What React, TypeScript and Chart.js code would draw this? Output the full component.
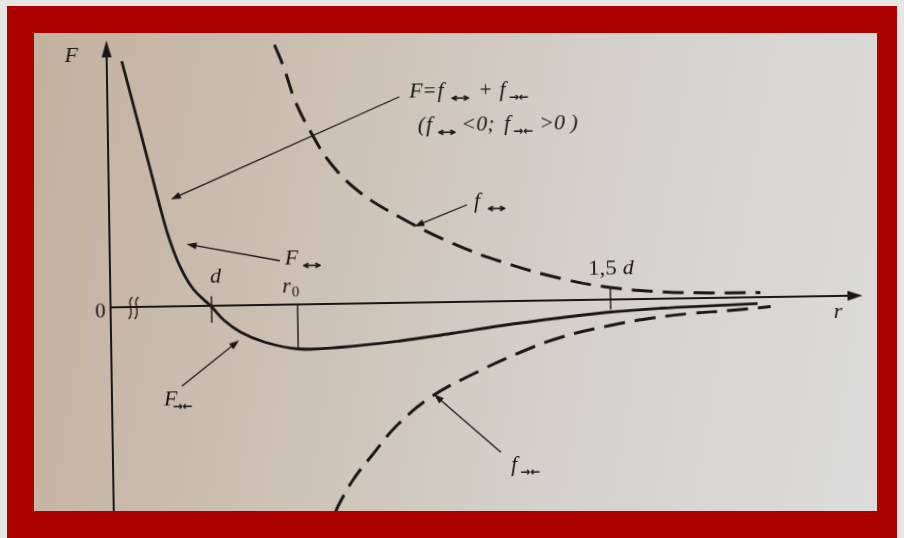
import React, { useEffect, useRef } from "react";
import { Chart, registerables } from "chart.js";
Chart.register(...registerables);

// ---- data (r in arbitrary units, F in arbitrary units) ----
const rF = [1.5, 2.2, 4.0, 5.3, 6.0, 7.0, 8.3, 10.1, 11.3, 13.0, 15.3, 18.7, 23.0, 29.0, 34.0, 39.0, 45.0, 50.0, 55.0, 60.0, 64.7];
const F = [24.6, 21.8, 14.5, 9.2, 6.7, 4.0, 1.7, -0.1, -1.45, -2.7, -3.7, -4.45, -4.35, -3.8, -3.15, -2.45, -1.75, -1.25, -0.95, -0.78, -0.64];
const rRep = [16.8, 17.7, 18.8, 20.3, 22.2, 25.0, 29.0, 34.0, 39.0, 45.0, 50.0, 55.0, 60.0, 65.0];
const fRep = [26.0, 23.7, 20.3, 17.2, 14.1, 11.2, 8.6, 6.0, 4.0, 2.2, 1.2, 0.7, 0.5, 0.46];
const rAtt = [22.1, 22.5, 24.0, 26.0, 28.5, 32.0, 36.0, 41.0, 45.0, 49.9, 54.3, 58.3, 61.7, 66.0];
const fAtt = [-21.0, -20.1, -17.6, -15.1, -12.2, -9.4, -7.3, -5.1, -3.7, -2.6, -1.9, -1.5, -1.3, -0.96];

// tick marks on the r axis
const R_D = 10.1;
const R_0 = 18.7;
const R_15D = 50.0;

const X_MIN = 0;
const X_MAX = 75.2;
const Y_MIN = -20.9;
const Y_MAX = 26.7;

const INK = "#1b1715";

type Seg = { t: string; k: "i" | "r" | "s" | "z"; g?: number; sx?: number };

const FONTS: Record<string, string> = {
  i: 'italic 22px "Liberation Serif"',
  r: '21px "Liberation Serif"',
  s: 'bold 12px "DejaVu Sans"',
  z: '15px "Liberation Serif"',
};

function rich(ctx: CanvasRenderingContext2D, x: number, y: number, segs: Seg[]) {
  let cx = x;
  for (const s of segs) {
    cx += s.g || 0;
    ctx.font = FONTS[s.k];
    const w = ctx.measureText(s.t).width;
    const sx = s.sx || 1;
    const dy = s.k === "s" ? 5 : s.k === "z" ? 4 : 0;
    ctx.save();
    ctx.translate(cx, y + dy);
    ctx.scale(sx, 1);
    ctx.fillText(s.t, 0, 0);
    ctx.restore();
    cx += w * sx;
  }
}

function arrow(ctx: CanvasRenderingContext2D, x1: number, y1: number, x2: number, y2: number, len: number, hw: number, lw: number) {
  const a = Math.atan2(y2 - y1, x2 - x1);
  const bx = x2 - len * Math.cos(a);
  const by = y2 - len * Math.sin(a);
  ctx.lineWidth = lw;
  ctx.beginPath();
  ctx.moveTo(x1, y1);
  ctx.lineTo(bx + 1 * Math.cos(a), by + 1 * Math.sin(a));
  ctx.stroke();
  ctx.beginPath();
  ctx.moveTo(x2, y2);
  ctx.lineTo(bx + hw * Math.sin(a), by - hw * Math.cos(a));
  ctx.lineTo(bx - hw * Math.sin(a), by + hw * Math.cos(a));
  ctx.closePath();
  ctx.fill();
}

// annotation pointers: [tailR, tailF, tipR, tipF]
const POINTERS: number[][] = [
  [29.2, 20.6, 6.2, 10.7],
  [35.8, 9.7, 30.5, 7.6],
  [17.0, 4.4, 7.7, 6.2],
  [7.0, -8.0, 12.8, -3.5],
  [38.8, -15.1, 32.2, -9.2],
];

const overlay = {
  id: "overlay",
  beforeDatasetsDraw(chart: any) {
    const ctx: CanvasRenderingContext2D = chart.ctx;
    const xs = chart.scales.x;
    const ys = chart.scales.y;
    const X = (v: number) => xs.getPixelForValue(v);
    const Y = (v: number) => ys.getPixelForValue(v);
    ctx.save();
    ctx.strokeStyle = INK;
    ctx.fillStyle = INK;
    // r axis
    arrow(ctx, X(0), Y(0), X(X_MAX), Y(0), 15, 5, 2);
    // F axis
    arrow(ctx, X(0), Y(Y_MIN), X(0), Y(Y_MAX), 17, 5, 2);
    // ticks
    ctx.lineWidth = 1.4;
    const iMin = F.indexOf(Math.min(...F));
    const ticks: number[][] = [
      [R_D, 0.95, -1.7],
      [R_0, 0, F[iMin]],
      [R_15D, 1.2, -1.0],
    ];
    for (const [r, a, b] of ticks) {
      ctx.beginPath();
      ctx.moveTo(X(r), Y(a));
      ctx.lineTo(X(r), Y(b));
      ctx.stroke();
    }
    // axis break mark
    ctx.lineWidth = 1.3;
    for (const r of [2.0, 2.6]) {
      const x = X(r);
      const y0 = Y(1.0);
      const y1 = Y(-1.2);
      ctx.beginPath();
      ctx.moveTo(x + 2, y0);
      ctx.bezierCurveTo(x - 5, y0 + 6, x + 5, y1 - 8, x - 2, y1);
      ctx.stroke();
    }
    ctx.restore();
  },
  afterDatasetsDraw(chart: any) {
    const ctx: CanvasRenderingContext2D = chart.ctx;
    const xs = chart.scales.x;
    const ys = chart.scales.y;
    const X = (v: number) => xs.getPixelForValue(v);
    const Y = (v: number) => ys.getPixelForValue(v);
    ctx.save();
    ctx.strokeStyle = INK;
    ctx.fillStyle = INK;
    for (const [a, b, c, d] of POINTERS) {
      arrow(ctx, X(a), Y(b), X(c), Y(d), 10, 3.5, 1.3);
    }
    ctx.textBaseline = "alphabetic";
    ctx.textAlign = "left";
    rich(ctx, X(-4.2), Y(24.6), [{ t: "F", k: "i" }]);
    ctx.font = FONTS.r;
    ctx.textAlign = "right";
    ctx.fillText("0", X(-0.5), Y(-1.0));
    ctx.textAlign = "left";
    rich(ctx, X(10.0), Y(2.3), [{ t: "d", k: "i" }]);
    rich(ctx, X(17.2), Y(1.2), [{ t: "r", k: "i" }, { t: "0", k: "z", g: 1 }]);
    rich(ctx, X(47.8), Y(2.5), [{ t: "1,5 ", k: "r", sx: 1.1 }, { t: "d", k: "i" }]);
    rich(ctx, X(72.3), Y(-2.2), [{ t: "r", k: "i" }]);
    rich(ctx, X(30.2), Y(20.5), [
      { t: "F", k: "i" },
      { t: "=", k: "r", g: 1 },
      { t: "f", k: "i", g: 2 },
      { t: "↔", k: "s", g: 6, sx: 2 },
      { t: "+", k: "r", g: 10 },
      { t: "f", k: "i", g: 8 },
      { t: "→←", k: "s", g: 3 },
    ]);
    rich(ctx, X(31.0), Y(17.1), [
      { t: "(", k: "i" },
      { t: "f", k: "i", g: 1 },
      { t: "↔", k: "s", g: 4, sx: 2 },
      { t: "<0; ", k: "i", g: 5 },
      { t: "f", k: "i", g: 4 },
      { t: "→←", k: "s", g: 3 },
      { t: ">0 )", k: "i", g: 6 },
    ]);
    rich(ctx, X(17.5), Y(4.0), [{ t: "F", k: "i" }, { t: "↔", k: "s", g: 3, sx: 2 }]);
    rich(ctx, X(36.5), Y(9.4), [{ t: "f", k: "i" }, { t: "↔", k: "s", g: 6, sx: 2 }]);
    rich(ctx, X(5.2), Y(-9.9), [{ t: "F", k: "i" }, { t: "→←", k: "s", g: -5 }]);
    rich(ctx, X(39.8), Y(-17.0), [{ t: "f", k: "i" }, { t: "→←", k: "s", g: 3 }]);
    ctx.restore();
  },
};

export default function App() {
  const ref = useRef<HTMLCanvasElement>(null);
  useEffect(() => {
    const canvas = ref.current!;
    const mk = (xs: number[], ys: number[]) => xs.map((x, i) => ({ x, y: ys[i] }));
    const common = {
      borderColor: INK,
      tension: 0.4,
      pointRadius: 0,
      fill: false,
      borderCapStyle: "butt",
    };
    const chart = new Chart(canvas, {
      type: "line",
      data: {
        datasets: [
          { ...common, label: "F", data: mk(rF, F), borderWidth: 2.8 },
          { ...common, label: "f repulsive", data: mk(rRep, fRep), borderWidth: 3, borderDash: [21, 10] },
          { ...common, label: "f attractive", data: mk(rAtt, fAtt), borderWidth: 3, borderDash: [21, 10] },
        ],
      },
      options: {
        responsive: false,
        animation: false,
        devicePixelRatio: 1,
        layout: { padding: { left: 110, right: 42, top: 35, bottom: 27 } },
        scales: {
          x: { type: "linear", min: X_MIN, max: X_MAX, display: false },
          y: { type: "linear", min: Y_MIN, max: Y_MAX, display: false },
        },
        plugins: { legend: { display: false }, tooltip: { enabled: false }, title: { display: false } },
        elements: { point: { radius: 0 } },
      },
      plugins: [overlay],
    } as any);
    return () => chart.destroy();
  }, []);

  return (
    <div style={{ position: "absolute", left: 0, top: 0, width: 904, height: 538, background: "#e6e6e6", overflow: "hidden" }}>
      <div
        style={{
          position: "absolute",
          left: 34,
          top: 33,
          width: 843,
          height: 478,
          background: "linear-gradient(100deg, #c3b19f 0%, #cbbfb2 30%, #d4cfc9 60%, #dcdcdc 100%)",
        }}
      />
      <canvas
        ref={ref}
        width={904}
        height={538}
        style={{ position: "absolute", left: 0, top: 0, width: 904, height: 538, transform: "rotate(-0.9deg)" }}
      />
      <div
        style={{
          position: "absolute",
          left: 7,
          top: 6,
          width: 890,
          height: 532,
          boxSizing: "border-box",
          borderStyle: "solid",
          borderColor: "#ad0000",
          borderWidth: "27px 20px 27px 27px",
        }}
      />
    </div>
  );
}
